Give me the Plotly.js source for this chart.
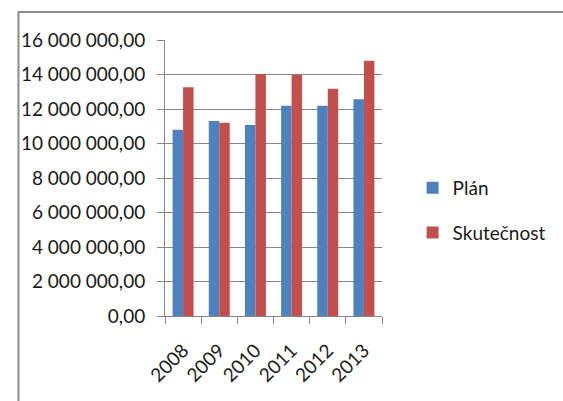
<!DOCTYPE html>
<html>
<head>
<meta charset="utf-8">
<script src="https://cdn.plot.ly/plotly-3.0.1.min.js"></script>
<style>
html,body{margin:0;padding:0;background:#fff;}
#chart{width:563px;height:401px;}
</style>
</head>
<body>
<div id="chart"></div>
<script>
const years = ["2008", "2009", "2010", "2011", "2012", "2013"];
const planValues = [10800000, 11300000, 11070000, 12190000, 12190000, 12560000];
const skutecnostValues = [13260000, 11210000, 14030000, 13970000, 13180000, 14800000];
const seriesNames = ["Plán", "Skutečnost"];

const W = 563, H = 401;
const L = 165, R = 399, T = 40, B = 316;
const px = x => (x - L) / (R - L);
const py = y => (B - y) / (B - T);

const font = {family: "Lato, 'Open Sans', sans-serif", size: 19, color: "#1a1a1a"};

const data = [
  {type: "bar", name: seriesNames[0], x: years, y: planValues, legendgroup: "a",
   marker: {color: "#4F81BD"}},
  {type: "bar", name: seriesNames[1], x: years, y: skutecnostValues, legendgroup: "b",
   marker: {color: "#C0504D"}}
];

const layout = {
  width: W, height: H,
  margin: {l: L, r: W - R, t: T, b: H - B, pad: 0},
  paper_bgcolor: "#fff", plot_bgcolor: "#fff",
  font: font,
  separators: ", ",
  barmode: "group",
  bargap: 0.42,
  bargroupgap: 0,
  showlegend: true,
  legend: {x: px(432), y: py(169), xanchor: "left", yanchor: "top",
           font: font, traceorder: "grouped", tracegroupgap: 17, itemwidth: 30,
           bgcolor: "rgba(0,0,0,0)"},
  xaxis: {type: "category", tickangle: -45, ticks: "outside", ticklen: 7,
          tickson: "boundaries", tickcolor: "#868686", tickwidth: 1,
          ticklabelstandoff: 15,
          showline: true, linecolor: "#868686", linewidth: 1,
          showgrid: false, tickfont: font, fixedrange: true},
  yaxis: {range: [0, 16000000], dtick: 2000000, tick0: 0, tickformat: ",.2f",
          ticks: "outside", ticklen: 7, tickcolor: "#868686", tickwidth: 1,
          ticklabelstandoff: 8,
          showline: true, linecolor: "#868686", linewidth: 1,
          showgrid: true, gridcolor: "#868686", gridwidth: 1,
          zeroline: false, tickfont: font, fixedrange: true},
  shapes: [
    {type: "rect", xref: "paper", yref: "paper",
     x0: px(7), x1: px(600), y0: py(430), y1: py(12),
     line: {color: "#8c8c8c", width: 2}, fillcolor: "rgba(0,0,0,0)", layer: "below"}
  ]
};

Plotly.newPlot("chart", data, layout, {displayModeBar: false, staticPlot: true});
</script>
</body>
</html>
